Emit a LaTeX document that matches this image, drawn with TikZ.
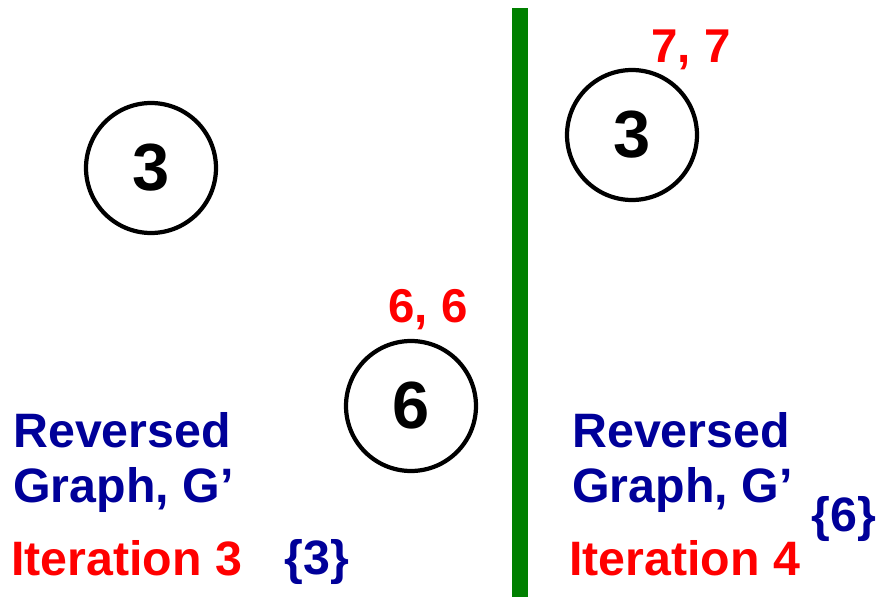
\documentclass[tikz,border=0pt]{standalone}
\usepackage{fontspec}
\setmainfont{Liberation Sans}
\usepackage{xcolor}
\usetikzlibrary{positioning}
\definecolor{navyblue}{RGB}{0,0,153}
\definecolor{bargreen}{RGB}{0,128,0}

\tikzset{
  vertex/.style={draw,circle,line width=2.4pt,minimum size=2.6cm,inner sep=0pt,
    font=\fontsize{38}{40}\selectfont\bfseries},
  dist/.style={text=red,anchor=base west,inner sep=0pt,font=\fontsize{27}{30}\selectfont\bfseries},
  caption/.style={text=navyblue,anchor=base west,inner sep=0pt,font=\fontsize{27.5}{30}\selectfont\bfseries},
  iter/.style={text=red,anchor=base west,inner sep=0pt,font=\fontsize{27.5}{30}\selectfont\bfseries}
}

\begin{document}
\begin{tikzpicture}[x=0.02cm,y=-0.02cm]
  \useasboundingbox (0,0) rectangle (878,597);
  % left half: iteration 3
  \node[vertex] (lthree) at (151,168) {3};
  \node[vertex] (six) at (411,406) {6};
  \node[dist] (sixdist) at (388,323) {6, 6};
  \node[caption] (lrev) at (13,447) {Reversed};
  \node[caption] (lgraph) at (13,502) {Graph, G’};
  \node[iter] (liter) at (11,575) {Iteration 3};
  \node[caption] (lset) at (284,574) {\{3\}};
  % divider
  \fill[bargreen] (512,8) rectangle (528,597);
  % right half: iteration 4
  \node[vertex] (rthree) at (632,135) {3};
  \node[dist] (threedist) at (651,63) {7, 7};
  \node[caption] (rrev) at (572,447) {Reversed};
  \node[caption] (rgraph) at (572,502) {Graph, G’};
  \node[iter] (riter) at (569,575) {Iteration 4};
  \node[caption] (rset) at (811,531) {\{6\}};
\end{tikzpicture}
\end{document}
